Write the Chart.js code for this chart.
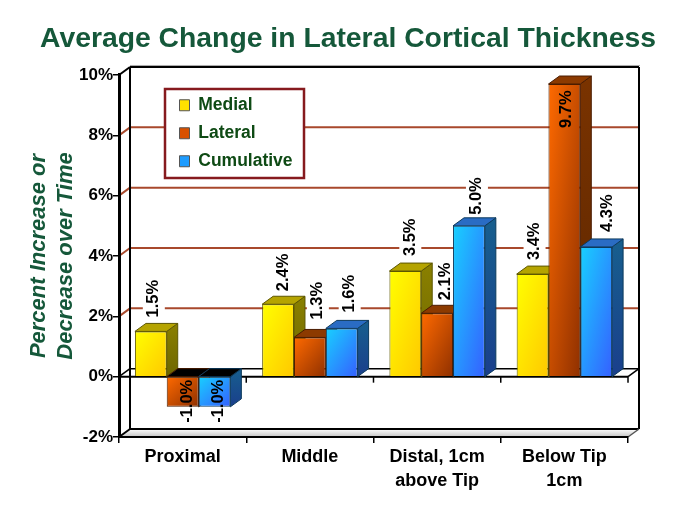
<!DOCTYPE html>
<html>
<head>
<meta charset="utf-8">
<style>
  html, body { margin: 0; padding: 0; background: #fff; }
  canvas { display: block; }
</style>
<script src="https://cdn.jsdelivr.net/npm/chart.js@4"></script>
</head>
<body>
<canvas id="grafico" width="685" height="513"></canvas>
<script>
const categorias = ["Proximal", "Middle", ["Distal, 1cm", "above Tip"], ["Below Tip", "1cm"]];
const medial = [1.5, 2.4, 3.5, 3.4];
const lateral = [-1.0, 1.3, 2.1, 9.7];
const cumulative = [-1.0, 1.6, 5.0, 4.3];

// small hand nudges for the value labels, they are not evenly placed in the original
const nudgeX = [[3, 5, 5, 2], [5, 8, 8, 2], [4, 8, 8, 11]];
const nudgeY = [[0, 1, -1, 0], [0, -4, 1, 58], [0, -2, 3, -1]];

const DX = 11, DY = 8; // depth of the fake 3D
const verdeTitulo = "#15583a";

const cores = [
  { a: "#ffff00", b: "#ffc800", lado: "#8a8000", lado2: "#6e6600", topo: "#b5a400", borda: "#5c5600", caixa: "#ffe000" },
  { a: "#ff6a00", b: "#8f3000", lado: "#7a3300", lado2: "#5c2600", topo: "#8c3a00", borda: "#4a1c00", caixa: "#d85000" },
  { a: "#18d0ff", b: "#3560ff", lado: "#175f8e", lado2: "#1a3f8c", topo: "#2a6cc4", borda: "#0c3a5c", caixa: "#1e9cff" },
];

// corner to corner gradient, iso lines run along the other diagonal of the bar
function preenchimento(c, cor) {
  const chart = c.chart, sx = chart.scales.x, sy = chart.scales.y;
  if (!sx || !sy || c.raw === undefined) return cor.a;
  const w = (sx.getPixelForTick(1) - sx.getPixelForTick(0)) * 0.25;
  const x0 = sx.getPixelForTick(c.dataIndex) + (c.datasetIndex - 1.5) * w;
  const y0 = Math.min(sy.getPixelForValue(c.raw), sy.getPixelForValue(0));
  const y1 = Math.max(sy.getPixelForValue(c.raw), sy.getPixelForValue(0));
  const h = y1 - y0;
  const k = (2 * w * h) / (w * w + h * h);
  const g = chart.ctx.createLinearGradient(x0, y0, x0 + h * k, y0 + w * k);
  g.addColorStop(0, cor.a);
  g.addColorStop(1, cor.b);
  return g;
}

function poligono(ctx, pts, fill, stroke) {
  ctx.beginPath();
  pts.forEach((p, i) => (i ? ctx.lineTo(p[0], p[1]) : ctx.moveTo(p[0], p[1])));
  ctx.closePath();
  ctx.fillStyle = fill;
  ctx.fill();
  if (stroke) {
    ctx.strokeStyle = stroke;
    ctx.lineWidth = 1;
    ctx.stroke();
  }
}

function linha(ctx, x0, y0, x1, y1, cor, w) {
  ctx.beginPath();
  ctx.moveTo(x0, y0);
  ctx.lineTo(x1, y1);
  ctx.strokeStyle = cor;
  ctx.lineWidth = w;
  ctx.stroke();
}

const fonteValor = 'bold 16.5px "Liberation Sans", Arial, sans-serif';

function posRotulo(chart, ds, i) {
  const el = chart.getDatasetMeta(ds).data[i];
  const v = chart.data.datasets[ds].data[i];
  const inicio = (v < 0 ? el.y + 16 : el.y - DY - 6) + nudgeY[ds][i];
  return { x: el.x + nudgeX[ds][i], y: inicio, v: v };
}

const parede = {
  id: "parede",
  beforeDraw(chart) {
    const ctx = chart.ctx, a = chart.chartArea, sy = chart.scales.y;
    ctx.save();
    // floor
    const g = ctx.createLinearGradient(0, a.bottom - DY, 0, a.bottom);
    g.addColorStop(0, "#ffffff");
    g.addColorStop(1, "#c4c4c4");
    poligono(ctx, [[a.left, a.bottom], [a.left + DX, a.bottom - DY], [a.right + DX, a.bottom - DY], [a.right, a.bottom]], g);
    // grid on back wall
    sy.ticks.forEach((t) => {
      const y = sy.getPixelForValue(t.value);
      if (t.value === -2 || t.value === 10 || t.value === 0) return;
      linha(ctx, a.left, y, a.left + DX, y - DY, "#a8492c", 2);
      linha(ctx, a.left + DX, y - DY, a.right + DX, y - DY, "#a8492c", 2);
    });
    // wall frame
    linha(ctx, a.left + DX, a.top - DY - 1.5, a.right + DX + 1, a.top - DY - 1.5, "#aaaaaa", 1);
    linha(ctx, a.left + DX, a.top - DY, a.right + DX, a.top - DY, "#000", 2);
    linha(ctx, a.left + DX, a.top - DY, a.left + DX, a.bottom - DY, "#000", 2);
    linha(ctx, a.right + DX, a.top - DY, a.right + DX, a.bottom - DY, "#000", 2);
    linha(ctx, a.left + DX, a.bottom - DY, a.right + DX, a.bottom - DY, "#000", 2);
    linha(ctx, a.left, a.top, a.left + DX, a.top - DY, "#000", 2);
    linha(ctx, a.left, a.bottom, a.left + DX, a.bottom - DY, "#000", 2);
    linha(ctx, a.right, a.bottom, a.right + DX, a.bottom - DY, "#555", 1.5);
    // zero plane, back edge
    const y0 = sy.getPixelForValue(0);
    linha(ctx, a.left, y0, a.left + DX, y0 - DY, "#000", 1.5);
    linha(ctx, a.left + DX, y0 - DY, a.right + DX, y0 - DY, "#000", 1.5);
    linha(ctx, a.right, y0, a.right + DX, y0 - DY, "#000", 1.5);
    // legend frame
    ctx.fillStyle = "#fff";
    ctx.fillRect(165, 89, 139, 89);
    ctx.strokeStyle = "#861a1e";
    ctx.lineWidth = 2.5;
    ctx.strokeRect(165, 89, 139, 89);
    // gaps in the grid behind the value labels
    ctx.font = fonteValor;
    chart.data.datasets.forEach((d, ds) => {
      d.data.forEach((v, i) => {
        const p = posRotulo(chart, ds, i);
        if (v < 0 || v > 9) return;
        const w = ctx.measureText(v.toFixed(1) + "%").width;
        ctx.fillRect(p.x - 11, p.y - w - 2, 22, w + 4);
      });
    });
    ctx.restore();
  },
  afterLayout(chart) {
    // native legend placed on top of the wall
    const l = chart.legend, w = l.width, h = l.height;
    l.left = 169;
    l.top = 86;
    l.right = l.left + w;
    l.bottom = l.top + h;
    // title is centred on the whole picture in the original, not on the plot
    chart.titleBlock.left = 40;
    chart.titleBlock.right = 656;
  },
  beforeDatasetsDraw(chart) {
    const ctx = chart.ctx, sy = chart.scales.y, a = chart.chartArea;
    ctx.save();
    const y0 = sy.getPixelForValue(0);
    const n = chart.data.labels.length;
    // zero plane front edge with its ticks
    linha(ctx, a.left, y0, a.right, y0, "#000", 2);
    const passo = (a.right - a.left) / n;
    for (let i = 0; i <= n; i++) {
      linha(ctx, a.left + i * passo, y0, a.left + i * passo, y0 + 6, "#000", 1.5);
    }
    for (let i = 0; i < n; i++) {
      chart.data.datasets.forEach((d, ds) => {
        const el = chart.getDatasetMeta(ds).data[i];
        const cor = cores[ds];
        const x0 = el.x - el.width / 2, x1 = el.x + el.width / 2;
        const topo = Math.min(el.y, y0), baixo = Math.max(el.y, y0);
        const lado = ctx.createLinearGradient(0, topo - DY, 0, baixo);
        lado.addColorStop(0, cor.lado);
        lado.addColorStop(1, cor.lado2);
        poligono(ctx, [[x1, topo], [x1 + DX, topo - DY], [x1 + DX, baixo - DY], [x1, baixo]], lado, cor.borda);
        poligono(ctx, [[x0, topo], [x0 + DX, topo - DY], [x1 + DX, topo - DY], [x1, topo]], d.data[i] < 0 ? "#000" : cor.topo, cor.borda);
      });
    }
    ctx.restore();
  },
  afterDatasetsDraw(chart) {
    const ctx = chart.ctx;
    ctx.save();
    ctx.font = fonteValor;
    ctx.fillStyle = "#000";
    ctx.textAlign = "left";
    ctx.textBaseline = "middle";
    chart.data.datasets.forEach((d, ds) => {
      d.data.forEach((v, i) => {
        const p = posRotulo(chart, ds, i);
        ctx.save();
        ctx.translate(p.x, p.y);
        ctx.rotate(-Math.PI / 2);
        ctx.fillText(v.toFixed(1) + "%", 0, 0);
        ctx.restore();
      });
    });
    ctx.restore();
  },
};

const series = [
  { label: "Medial", data: medial },
  { label: "Lateral", data: lateral },
  { label: "Cumulative", data: cumulative },
];

new Chart(document.getElementById("grafico"), {
  type: "bar",
  plugins: [parede],
  data: {
    labels: categorias,
    datasets: series.map((s, k) => ({
      label: s.label,
      data: s.data,
      backgroundColor: (c) => preenchimento(c, cores[k]),
      borderColor: cores[k].borda,
      borderWidth: 1,
      categoryPercentage: 0.75,
      barPercentage: 1,
    })),
  },
  options: {
    responsive: false,
    animation: false,
    layout: { padding: { left: 0, right: 57, top: 0, bottom: 0 } },
    plugins: {
      tooltip: { enabled: false },
      title: {
        display: true,
        text: "Average Change in Lateral Cortical Thickness",
        color: verdeTitulo,
        font: { family: '"Liberation Sans", Arial, sans-serif', size: 28.4, weight: "bold", lineHeight: 1.2 },
        padding: { top: 21.7, bottom: 19.2 },
      },
      legend: {
        position: "chartArea",
        align: "start",
        labels: {
          boxWidth: 10,
          boxHeight: 11,
          padding: 10.5,
          font: { family: '"Liberation Sans", Arial, sans-serif', size: 17.5, weight: "bold" },
          generateLabels: () =>
            series.map((s, k) => ({
              text: s.label,
              fillStyle: cores[k].caixa,
              strokeStyle: "#555",
              fontColor: "#0e4a14",
              lineWidth: 1,
              datasetIndex: k,
            })),
        },
      },
    },
    scales: {
      x: {
        afterFit: (s) => { s.height = 76; },
        grid: { offset: true, drawOnChartArea: false, tickLength: 6, color: "#000", lineWidth: 1.5 },
        border: { color: "#000", width: 2 },
        ticks: {
          color: "#000",
          padding: 3,
          maxRotation: 0,
          autoSkip: false,
          font: { family: '"Liberation Sans", Arial, sans-serif', size: 18, weight: "bold", lineHeight: 1.28 },
        },
      },
      y: {
        min: -2,
        max: 10,
        afterFit: (s) => { s.width = 119; },
        grid: { drawOnChartArea: false, tickLength: 6, color: "#000", lineWidth: 1.5 },
        border: { color: "#000", width: 3 },
        title: {
          display: true,
          text: ["Percent Increase or", "Decrease over Time"],
          color: verdeTitulo,
          font: { family: '"Liberation Sans", Arial, sans-serif', size: 22, weight: "bold", style: "italic", lineHeight: 1.23 },
          padding: { top: 25, bottom: 0 },
        },
        ticks: {
          stepSize: 2,
          color: "#000",
          padding: 0,
          callback: (v) => v + "%",
          font: { family: '"Liberation Sans", Arial, sans-serif', size: 17, weight: "bold" },
        },
      },
    },
  },
});
</script>
</body>
</html>
